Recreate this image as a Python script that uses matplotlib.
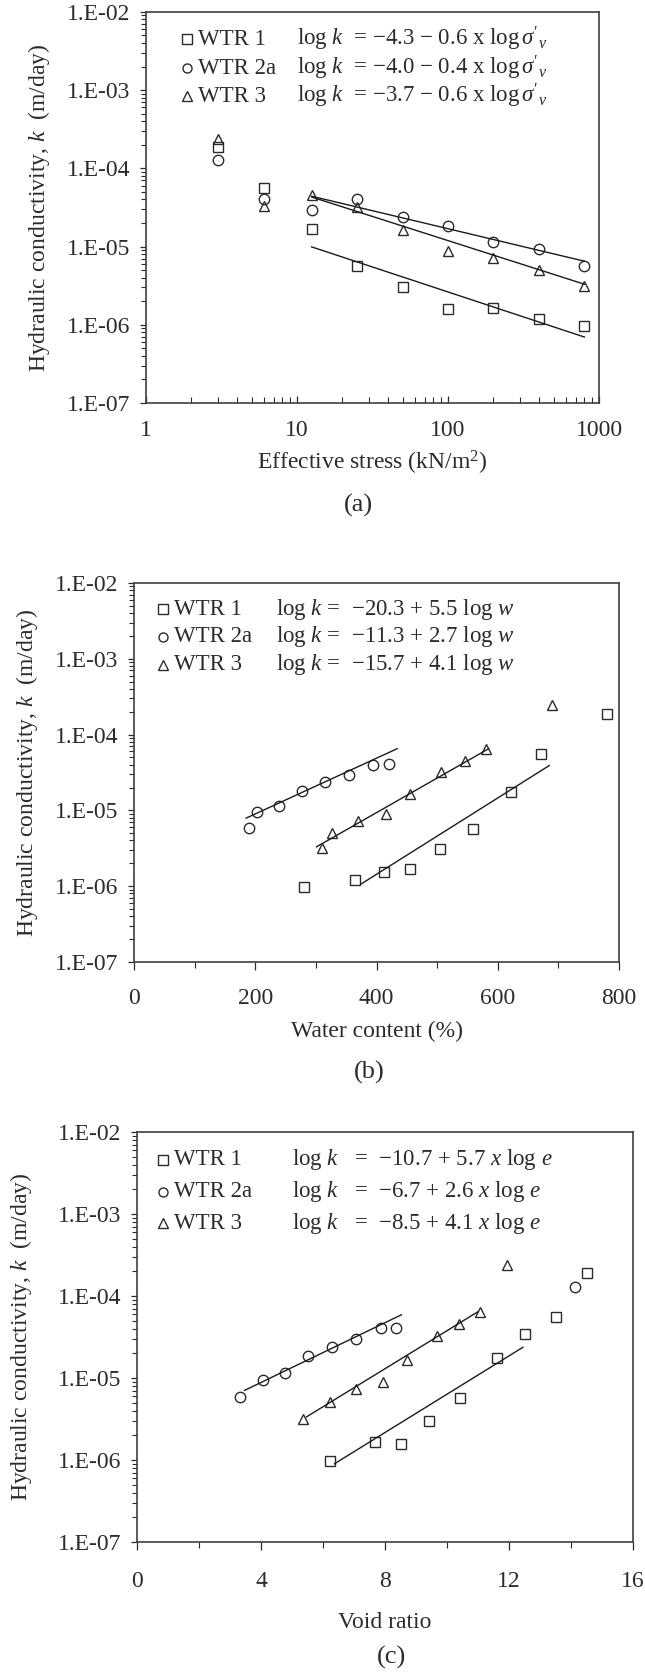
import matplotlib
matplotlib.use('Agg')
import matplotlib.pyplot as plt
from matplotlib.ticker import FixedLocator, FixedFormatter, MultipleLocator, LogLocator, NullFormatter

plt.rcParams['font.family'] = 'Liberation Serif'
plt.rcParams['mathtext.fontset'] = 'custom'
plt.rcParams['mathtext.rm'] = 'Liberation Serif'
plt.rcParams['mathtext.it'] = 'Liberation Serif:italic'
plt.rcParams['mathtext.bf'] = 'Liberation Serif:bold'

# ---- data ----
series_names = ['WTR 1', 'WTR 2a', 'WTR 3']
ytick_vals = [1e-7, 1e-6, 1e-5, 1e-4, 1e-3, 1e-2]
ytick_labels = ['1.E-07', '1.E-06', '1.E-05', '1.E-04', '1.E-03', '1.E-02']

# (a) effective stress
stress = [3, 6, 12.5, 25, 50, 100, 200, 400, 800]
k_a_wtr1 = [1.87e-4, 5.6e-5, 1.7e-5, 5.6e-6, 3.0e-6, 1.57e-6, 1.65e-6, 1.2e-6, 9.6e-7]
k_a_wtr2a = [1.27e-4, 4.07e-5, 2.94e-5, 4.1e-5, 2.38e-5, 1.84e-5, 1.15e-5, 9.4e-6, 5.7e-6]
k_a_wtr3 = [2.34e-4, 3.27e-5, 4.5e-5, 3.18e-5, 1.63e-5, 8.8e-6, 7.1e-6, 5.0e-6, 3.16e-6]
fit_a_x = [[12.5, 800], [12.5, 800], [12.5, 800]]
fit_a_k = [[9.9e-6, 6.97e-7], [4.4e-5, 6.5e-6], [4.3e-5, 3.3e-6]]
eq_a = [r"log $k$  = −4.3 − 0.6 x log$\,\sigma'_v$",
        r"log $k$  = −4.0 − 0.4 x log$\,\sigma'_v$",
        r"log $k$  = −3.7 − 0.6 x log$\,\sigma'_v$"]

# (b) water content
w_wtr1 = [280, 365, 412, 455, 505, 559, 622, 672, 780]
k_b_wtr1 = [9.6e-7, 1.2e-6, 1.55e-6, 1.7e-6, 3.05e-6, 5.6e-6, 1.74e-5, 5.6e-5, 1.88e-4]
w_wtr2a = [190, 203, 239, 277, 315, 354, 394, 420]
k_b_wtr2a = [5.8e-6, 9.45e-6, 1.15e-5, 1.8e-5, 2.36e-5, 2.93e-5, 4.0e-5, 4.1e-5]
w_wtr3 = [310, 327, 370, 416, 456, 507, 546, 580, 690]
k_b_wtr3 = [3.2e-6, 5.0e-6, 7.2e-6, 8.85e-6, 1.64e-5, 3.23e-5, 4.5e-5, 6.5e-5, 2.42e-4]
fit_b_x = [[374, 685], [185, 434], [301, 585]]
fit_b_k = [[1.06e-6, 3.9e-5], [7.9e-6, 6.5e-5], [3.3e-6, 6.5e-5]]
eq_b = [r"log $k$ =  −20.3 + 5.5 log $w$",
        r"log $k$ =  −11.3 + 2.7 log $w$",
        r"log $k$ =  −15.7 + 4.1 log $w$"]

# (c) void ratio
e_wtr1 = [6.21, 7.69, 8.53, 9.42, 10.42, 11.61, 12.52, 13.51, 14.51]
k_c_wtr1 = [9.6e-7, 1.66e-6, 1.58e-6, 3.03e-6, 5.7e-6, 1.74e-5, 3.43e-5, 5.6e-5, 1.89e-4]
e_wtr2a = [3.32, 4.08, 4.77, 5.53, 6.30, 7.07, 7.87, 8.36, 14.14]
k_c_wtr2a = [5.86e-6, 9.4e-6, 1.16e-5, 1.83e-5, 2.37e-5, 2.97e-5, 4.05e-5, 4.05e-5, 1.28e-4]
e_wtr3 = [5.37, 6.22, 7.08, 7.92, 8.70, 9.69, 10.40, 11.06, 11.92]
k_c_wtr3 = [3.15e-6, 5.08e-6, 7.3e-6, 8.9e-6, 1.67e-5, 3.23e-5, 4.54e-5, 6.4e-5, 2.4e-4]
fit_c_x = [[6.37, 12.45], [3.47, 8.53], [5.47, 10.99]]
fit_c_k = [[9.0e-7, 2.37e-5], [7.06e-6, 5.9e-5], [3.36e-6, 6.4e-5]]
eq_c = [r"log $k$   =  −10.7 + 5.7 $x$ log $e$",
        r"log $k$   =  −6.7 + 2.6 $x$ log $e$",
        r"log $k$   =  −8.5 + 4.1 $x$ log $e$"]

markers = ['s', 'o', '^']
col = '#2b2b2b'

fig = plt.figure(figsize=(6.45, 16.77), dpi=100)
ax_a = fig.add_axes([0.2264, 0.7597, 0.7023, 0.2332])
ax_b = fig.add_axes([0.2078, 0.4264, 0.7519, 0.2260])
ax_c = fig.add_axes([0.2124, 0.0805, 0.7690, 0.2445])


def style_y(ax, label_x):
    ax.set_yscale('log')
    ax.set_ylim(1e-7, 1e-2)
    ax.yaxis.set_major_locator(FixedLocator(ytick_vals))
    ax.yaxis.set_major_formatter(FixedFormatter(ytick_labels))
    ax.yaxis.set_minor_locator(LogLocator(base=10, subs=range(2, 10)))
    ax.yaxis.set_minor_formatter(NullFormatter())
    ax.tick_params(axis='y', which='major', direction='out', length=4.5, width=0.9,
                   labelsize=17, pad=7, colors=col)
    ax.tick_params(axis='y', which='minor', direction='out', length=3.8, width=0.8, colors=col)
    ax.set_ylabel('Hydraulic conductivity, $k$  (m/day)', fontsize=17, color=col)
    ax.yaxis.set_label_coords(label_x, 0.5)
    for s in ax.spines.values():
        s.set_linewidth(1.2)
        s.set_color('#404040')


def draw_series(ax, xs, ks, fx, fk):
    for i in range(3):
        ax.plot(xs[i], ks[i], linestyle='none', marker=markers[i], ms=7.5, mfc='none',
                mec=col, mew=1.0)
        ax.plot(fx[i], fk[i], color='#1a1a1a', lw=1.0)


def draw_key(ax, rows_y, mx, tx, ex, eqs):
    for i in range(3):
        ax.plot([mx], [rows_y[i]], transform=ax.transAxes, linestyle='none',
                marker=markers[i], ms=6.5, mfc='none', mec=col, mew=1.0, clip_on=False)
        ax.text(tx, rows_y[i], series_names[i], transform=ax.transAxes, fontsize=16.5,
                va='center', ha='left', color=col)
        ax.text(ex, rows_y[i], eqs[i], transform=ax.transAxes, fontsize=16.5,
                va='center', ha='left', color=col)


# (a)
style_y(ax_a, -0.2075)
draw_series(ax_a, [stress, stress, stress], [k_a_wtr1, k_a_wtr2a, k_a_wtr3], fit_a_x, fit_a_k)
ax_a.set_xscale('log')
ax_a.set_xlim(1, 1000)
ax_a.xaxis.set_major_locator(FixedLocator([1, 10, 100, 1000]))
ax_a.xaxis.set_major_formatter(FixedFormatter(['1', '10', '100', '1000']))
ax_a.xaxis.set_minor_locator(LogLocator(base=10, subs=range(2, 10)))
ax_a.xaxis.set_minor_formatter(NullFormatter())
ax_a.tick_params(axis='x', which='major', direction='in', length=5, width=0.9,
                 labelsize=17, pad=12, colors=col)
ax_a.tick_params(axis='x', which='minor', direction='in', length=4, width=0.8, colors=col)
ax_a.set_xlabel('Effective stress (kN/m$^2$)', fontsize=17, color=col, labelpad=6)
draw_key(ax_a, [0.930, 0.856, 0.784], 0.0905, 0.115, 0.333, eq_a)

# (b)
style_y(ax_b, -0.194)
draw_series(ax_b, [w_wtr1, w_wtr2a, w_wtr3], [k_b_wtr1, k_b_wtr2a, k_b_wtr3], fit_b_x, fit_b_k)
ax_b.set_xlim(0, 800)
ax_b.xaxis.set_major_locator(MultipleLocator(200))
ax_b.xaxis.set_minor_locator(MultipleLocator(100))
ax_b.tick_params(axis='x', which='major', direction='out', length=6, width=0.9,
                 labelsize=17, pad=13, colors=col)
ax_b.tick_params(axis='x', which='minor', direction='out', length=4.5, width=0.8, colors=col)
ax_b.set_xlabel('Water content (%)', fontsize=17, color=col, labelpad=8)
draw_key(ax_b, [0.931, 0.858, 0.784], 0.060, 0.083, 0.293, eq_b)

# (c)
style_y(ax_c, -0.208)
draw_series(ax_c, [e_wtr1, e_wtr2a, e_wtr3], [k_c_wtr1, k_c_wtr2a, k_c_wtr3], fit_c_x, fit_c_k)
ax_c.set_xlim(0, 16)
ax_c.xaxis.set_major_locator(MultipleLocator(4))
ax_c.xaxis.set_minor_locator(MultipleLocator(2))
ax_c.tick_params(axis='x', which='major', direction='out', length=6, width=0.9,
                 labelsize=17, pad=15, colors=col)
ax_c.tick_params(axis='x', which='minor', direction='out', length=4.5, width=0.8, colors=col)
ax_c.set_xlabel('Void ratio', fontsize=17, color=col, labelpad=14)
draw_key(ax_c, [0.932, 0.854, 0.778], 0.052, 0.074, 0.313, eq_c)

# panel captions
fig.text(358 / 645, 1 - 505 / 1677, '(a)', fontsize=19, ha='center', va='center', color=col)
fig.text(369 / 645, 1 - 1072 / 1677, '(b)', fontsize=19, ha='center', va='center', color=col)
fig.text(392 / 645, 1 - 1657 / 1677, '(c)', fontsize=19, ha='center', va='center', color=col)

fig.savefig('out.png', dpi=100)
